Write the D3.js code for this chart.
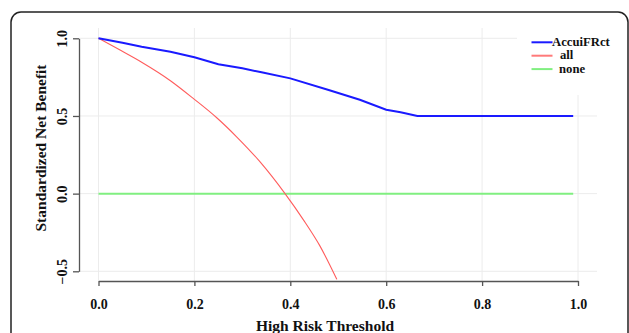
<!DOCTYPE html>
<html>
<head>
<meta charset="utf-8">
<script src="https://cdn.jsdelivr.net/npm/d3@7"></script>
<style>
  body { margin: 0; background: #fff; }
  svg { display: block; }
  text { font-family: "Liberation Serif", "DejaVu Serif", serif; font-weight: bold; fill: #111; }
</style>
</head>
<body>
<div id="chart"></div>
<script>
// decision curve data
var accuiThreshold = [0, 0.05, 0.09, 0.15, 0.2, 0.25, 0.3, 0.34, 0.4, 0.48, 0.545, 0.6, 0.63, 0.665, 0.99];
var accuiBenefit   = [1.0, 0.972, 0.946, 0.914, 0.878, 0.833, 0.807, 0.781, 0.742, 0.667, 0.604, 0.54, 0.524, 0.5, 0.5];

var allThreshold = [0, 0.045, 0.09, 0.15, 0.2, 0.246, 0.288, 0.337, 0.389, 0.427, 0.462, 0.497];
var allBenefit   = [1.0, 0.924, 0.846, 0.727, 0.607, 0.49, 0.366, 0.204, 0.0, -0.167, -0.338, -0.552];

var noneThreshold = [0, 0.99];
var noneBenefit   = [0, 0];

var xTicks = [0, 0.2, 0.4, 0.6, 0.8, 1.0];
var yTicks = [-0.5, 0, 0.5, 1.0];
var legendNames = ["AccuiFRct", "all", "none"];

var width = 629, height = 333;

var svg = d3.select("#chart").append("svg")
    .attr("width", width)
    .attr("height", height);

// rounded frame
svg.append("rect")
    .attr("x", 11).attr("y", 12)
    .attr("width", 617).attr("height", 400)
    .attr("rx", 10).attr("ry", 10)
    .attr("fill", "none")
    .attr("stroke", "#222")
    .attr("stroke-width", 1.5);

var x = d3.scaleLinear().domain([0, 1]).range([98.5, 578]);
var y = d3.scaleLinear().domain([-0.5, 1]).range([271.3, 38.3]);

var panel = { left: 79, right: 597, top: 28, bottom: 281 };

// grid
var grid = svg.append("g").attr("stroke", "#ececec").attr("stroke-width", 1);
grid.selectAll("line.v").data(xTicks).enter().append("line")
    .attr("class", "v")
    .attr("x1", function(d) { return x(d); })
    .attr("x2", function(d) { return x(d); })
    .attr("y1", panel.top).attr("y2", panel.bottom);
grid.selectAll("line.h").data(yTicks).enter().append("line")
    .attr("class", "h")
    .attr("y1", function(d) { return y(d); })
    .attr("y2", function(d) { return y(d); })
    .attr("x1", panel.left).attr("x2", panel.right);

// legend background covers the grid
svg.append("rect")
    .attr("x", 517).attr("y", 25)
    .attr("width", 84).attr("height", 70)
    .attr("fill", "#fff");

// axes
var xAxis = svg.append("g")
    .attr("transform", "translate(0," + panel.bottom + ")")
    .call(d3.axisBottom(x).tickValues(xTicks).tickFormat(d3.format(".1f")).tickSize(5).tickSizeOuter(0));
xAxis.select(".domain").attr("stroke", "#555").attr("stroke-width", 1.3);
xAxis.selectAll(".tick line").attr("stroke", "#555").attr("stroke-width", 1.3);
xAxis.selectAll(".tick text")
    .attr("y", 18)
    .attr("dy", "0.71em")
    .style("font-family", "Liberation Serif")
    .style("font-weight", "bold")
    .style("font-size", "14px")
    .attr("fill", "#111");

var yAxis = svg.append("g")
    .attr("transform", "translate(" + panel.left + ",0)")
    .call(d3.axisLeft(y).tickValues(yTicks).tickFormat(d3.format(".1f")).tickSize(6).tickSizeOuter(0));
yAxis.select(".domain").attr("stroke", "#555").attr("stroke-width", 1.3);
yAxis.selectAll(".tick line").attr("stroke", "#555").attr("stroke-width", 1.3);
yAxis.selectAll(".tick text")
    .attr("x", null).attr("dy", null)
    .attr("transform", "translate(-12,0) rotate(-90)")
    .attr("text-anchor", "middle")
    .style("font-family", "Liberation Serif")
    .style("font-weight", "bold")
    .style("font-size", "14px")
    .attr("fill", "#111");

// axis titles
svg.append("text")
    .attr("x", 325).attr("y", 331)
    .attr("text-anchor", "middle")
    .style("font-size", "15.5px")
    .text("High Risk Threshold");

svg.append("text")
    .attr("transform", "translate(46,148) rotate(-90)")
    .attr("text-anchor", "middle")
    .style("font-size", "15.5px")
    .text("Standardized Net Benefit");

// curves
function pairs(xs, ys) {
    return xs.map(function(d, i) { return [d, ys[i]]; });
}

var line = d3.line()
    .x(function(d) { return x(d[0]); })
    .y(function(d) { return y(d[1]); });

svg.append("path")
    .datum(pairs(noneThreshold, noneBenefit))
    .attr("d", line)
    .attr("fill", "none")
    .attr("stroke", "#80ef80")
    .attr("stroke-width", 2);

svg.append("path")
    .datum(pairs(allThreshold, allBenefit))
    .attr("d", line.curve(d3.curveMonotoneX))
    .attr("fill", "none")
    .attr("stroke", "#ff5c5c")
    .attr("stroke-width", 1.1);

svg.append("path")
    .datum(pairs(accuiThreshold, accuiBenefit))
    .attr("d", line.curve(d3.curveLinear))
    .attr("fill", "none")
    .attr("stroke", "#1a1aff")
    .attr("stroke-width", 2);

// legend
var legendColors = ["#1a1aff", "#ff7a7a", "#80ef80"];
var legendTextX = [552, 560, 559];
var lg = svg.append("g");
legendNames.forEach(function(name, i) {
    var ly = 42.3 + i * 13.4;
    lg.append("line")
        .attr("x1", 531.5).attr("x2", 552.5)
        .attr("y1", ly).attr("y2", ly)
        .attr("stroke", legendColors[i])
        .attr("stroke-width", 2);
    lg.append("text")
        .attr("x", legendTextX[i])
        .attr("y", ly + 3.5)
        .style("font-size", "12.7px")
        .text(name);
});
</script>
</body>
</html>
